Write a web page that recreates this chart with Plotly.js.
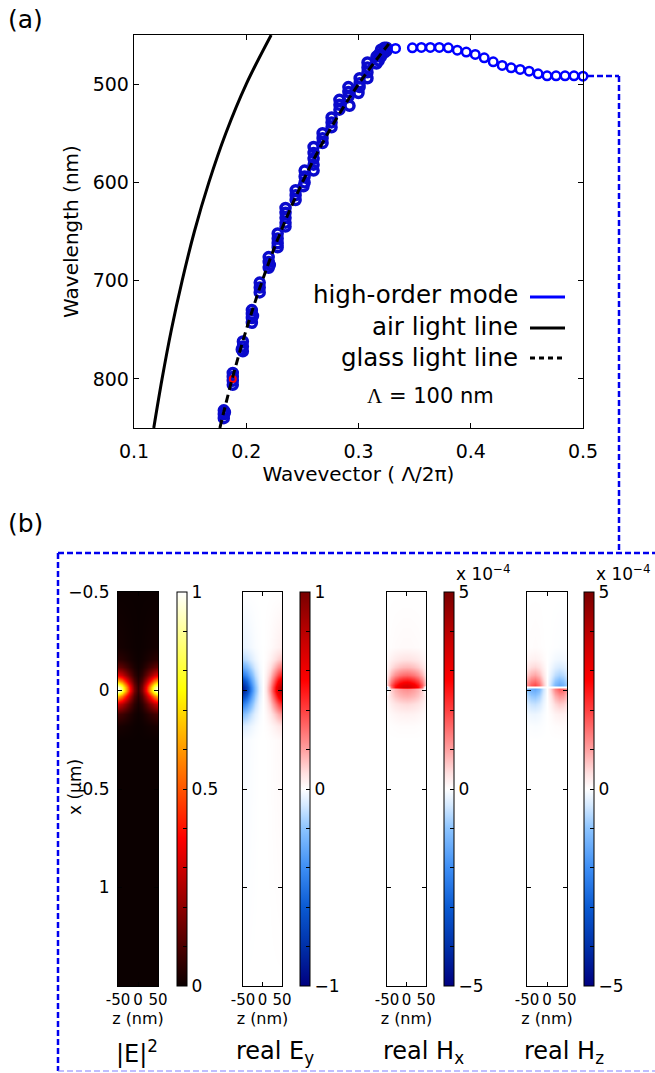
<!DOCTYPE html>
<html>
<head>
<meta charset="utf-8">
<script src="https://cdn.plot.ly/plotly-3.0.1.min.js"></script>
<style>html,body{margin:0;padding:0;background:#fff;}#chart{width:655px;height:1073px;}</style>
</head>
<body>
<div id="chart"></div>
<script>
// ---------- Panel (a) data ----------
const modeRiseK = [0.180,0.180,0.180,0.181, 0.188,0.188,0.188,0.188, 0.197,0.197,0.197,0.196, 0.205,0.205,0.205,0.205,0.206, 0.212,0.212,0.212, 0.220,0.220,0.220,0.221, 0.228,0.228,0.228,0.228, 0.235,0.235,0.235,0.235,0.235, 0.244,0.244,0.244, 0.252,0.252,0.252,0.251, 0.260,0.260,0.260,0.260,0.260, 0.268,0.268,0.268, 0.276,0.276,0.276, 0.283,0.283,0.283, 0.291,0.291,0.291,0.292, 0.300,0.301,0.301,0.301, 0.308,0.308,0.308,0.308, 0.316,0.316,0.318,0.318,0.320,0.320,0.323,0.323,0.325,0.325];
const modeRiseL = [832,836,840,834, 794,798,802,806, 762,767,772,770, 730,734,738,743,736, 702,707,712, 676,681,687,684, 652,657,662,666, 626,631,636,641,645, 608,613,618, 588,594,600,604, 564,570,576,582,588, 550,555,560, 534,539,544, 516,521,526, 503,508,513,522, 509,494,499,503, 478,483,488,494, 472,479,470,476,465,472,463,468,463,466];
const modeFlatK = [0.333,0.348,0.356,0.364,0.372,0.380,0.388,0.396,0.404,0.412,0.420,0.428,0.436,0.444,0.452,0.460,0.468,0.476,0.484,0.492,0.500];
const modeFlatL = [463.7,463.0,462.7,462.7,462.7,463.0,465.4,467.4,469.8,473.2,477.3,481.0,483.4,485.0,486.8,489.5,491.6,491.6,491.6,491.6,491.9];
const redK = [0.188];
const redL = [800];
const airK = [0.1176,0.125,0.1333,0.1429,0.1538,0.1667,0.1818,0.2,0.2222];
const airL = [850,800,750,700,650,600,550,500,450];
const glassK = [0.1765,0.1875,0.2,0.2143,0.2308,0.25,0.2727,0.3,0.327];
const glassL = [850,800,750,700,650,600,550,500,459];
const xTicksA = [0.1,0.2,0.3,0.4,0.5];
const yTicksA = [500,600,700,800];

// ---------- Panel (b) data ----------
const zNm = [-50,-40,-30,-20,-10,0,10,20,30,40,50];
const xUm = [-0.5,-0.22,-0.16,-0.12,-0.08,-0.05,-0.03,-0.02,-0.01,0,0.03,0.07,0.12,0.18,0.25,1.5];
const fieldE2 = [
 [0,0,0,0,0,0,0,0,0,0,0],
 [0.015,0.013,0.009,0.006,0.003,0.001,0.003,0.006,0.009,0.013,0.015],
 [0.05,0.043,0.031,0.019,0.009,0.003,0.009,0.019,0.031,0.043,0.05],
 [0.14,0.12,0.087,0.053,0.024,0.008,0.024,0.053,0.087,0.12,0.14],
 [0.34,0.29,0.21,0.13,0.058,0.02,0.058,0.13,0.21,0.29,0.34],
 [0.63,0.54,0.39,0.24,0.107,0.038,0.107,0.24,0.39,0.54,0.63],
 [0.87,0.74,0.54,0.33,0.148,0.052,0.148,0.33,0.54,0.74,0.87],
 [0.96,0.82,0.6,0.365,0.163,0.058,0.163,0.365,0.6,0.82,0.96],
 [1.0,0.85,0.62,0.38,0.17,0.06,0.17,0.38,0.62,0.85,1.0],
 [0.96,0.82,0.6,0.365,0.163,0.058,0.163,0.365,0.6,0.82,0.96],
 [0.65,0.55,0.4,0.247,0.11,0.039,0.11,0.247,0.4,0.55,0.65],
 [0.3,0.255,0.186,0.114,0.051,0.018,0.051,0.114,0.186,0.255,0.3],
 [0.09,0.077,0.056,0.034,0.015,0.005,0.015,0.034,0.056,0.077,0.09],
 [0.02,0.017,0.012,0.008,0.003,0.001,0.003,0.008,0.012,0.017,0.02],
 [0,0,0,0,0,0,0,0,0,0,0],
 [0,0,0,0,0,0,0,0,0,0,0]
];
const fieldEy = [
 [0,0,0,0,0,0,0,0,0,0,0],
 [-0.044,-0.035,-0.023,-0.011,-0.004,0,0.004,0.011,0.023,0.035,0.044],
 [-0.13,-0.105,-0.068,-0.033,-0.01,0,0.01,0.033,0.068,0.105,0.13],
 [-0.28,-0.224,-0.144,-0.07,-0.022,0,0.022,0.07,0.144,0.224,0.28],
 [-0.48,-0.385,-0.25,-0.12,-0.039,0,0.039,0.12,0.25,0.385,0.48],
 [-0.69,-0.55,-0.35,-0.17,-0.055,0,0.055,0.17,0.35,0.55,0.69],
 [-0.81,-0.64,-0.41,-0.2,-0.064,0,0.064,0.2,0.41,0.64,0.81],
 [-0.86,-0.69,-0.44,-0.215,-0.069,0,0.069,0.215,0.44,0.69,0.86],
 [-0.88,-0.7,-0.45,-0.22,-0.07,0,0.07,0.22,0.45,0.7,0.88],
 [-0.86,-0.69,-0.44,-0.215,-0.069,0,0.069,0.215,0.44,0.69,0.86],
 [-0.7,-0.56,-0.36,-0.176,-0.056,0,0.056,0.176,0.36,0.56,0.7],
 [-0.46,-0.36,-0.234,-0.114,-0.036,0,0.036,0.114,0.234,0.36,0.46],
 [-0.22,-0.175,-0.112,-0.055,-0.018,0,0.018,0.055,0.112,0.175,0.22],
 [-0.07,-0.056,-0.036,-0.018,-0.006,0,0.006,0.018,0.036,0.056,0.07],
 [-0.018,-0.014,-0.009,-0.004,-0.001,0,0.001,0.004,0.009,0.014,0.018],
 [0,0,0,0,0,0,0,0,0,0,0]
];
const fieldHx = [
 [0,0,0,0,0,0,0,0,0,0,0],
 [0.01,0.03,0.05,0.06,0.07,0.07,0.07,0.06,0.05,0.03,0.01],
 [0.06,0.18,0.26,0.31,0.34,0.35,0.34,0.31,0.26,0.18,0.06],
 [0.13,0.4,0.57,0.68,0.75,0.77,0.75,0.68,0.57,0.4,0.13],
 [0.27,0.81,1.17,1.4,1.53,1.58,1.53,1.4,1.17,0.81,0.27],
 [0.45,1.35,1.95,2.33,2.55,2.63,2.55,2.33,1.95,1.35,0.45],
 [0.5,1.7,2.47,2.95,3.23,3.33,3.23,2.95,2.47,1.7,0.5],
 [-0.6,1.5,2.6,3.1,3.4,3.5,3.4,3.1,2.6,1.5,-0.6],
 [-0.4,0.5,0.8,1.0,1.15,1.2,1.15,1.0,0.8,0.5,-0.4],
 [-0.1,0.5,0.8,0.95,1.05,1.1,1.05,0.95,0.8,0.5,-0.1],
 [0.15,0.45,0.65,0.78,0.85,0.88,0.85,0.78,0.65,0.45,0.15],
 [0.08,0.23,0.34,0.4,0.44,0.46,0.44,0.4,0.34,0.23,0.08],
 [0.03,0.09,0.13,0.16,0.17,0.18,0.17,0.16,0.13,0.09,0.03],
 [0.01,0.02,0.03,0.04,0.04,0.04,0.04,0.04,0.03,0.02,0.01],
 [0,0,0,0,0,0,0,0,0,0,0],
 [0,0,0,0,0,0,0,0,0,0,0]
];
const fieldHz = [
 [0,0,0,0,0,0,0,0,0,0,0],
 [0.02,0.03,0.04,0.03,0.01,0,-0.01,-0.02,-0.03,-0.03,-0.02],
 [0.12,0.17,0.19,0.15,0.07,0,-0.06,-0.12,-0.15,-0.13,-0.08],
 [0.3,0.43,0.48,0.38,0.18,0,-0.15,-0.3,-0.38,-0.33,-0.2],
 [0.6,0.85,0.95,0.75,0.35,0,-0.3,-0.6,-0.75,-0.65,-0.4],
 [0.96,1.36,1.52,1.2,0.56,0,-0.48,-0.96,-1.2,-1.04,-0.64],
 [1.2,1.7,1.9,1.5,0.7,0,-0.6,-1.2,-1.5,-1.3,-0.8],
 [0,0,0,0,0,0,0,0,0,0,0],
 [-1.0,-1.4,-1.5,-1.2,-0.5,0,0.6,1.3,1.7,1.6,1.1],
 [-0.9,-1.26,-1.35,-1.08,-0.45,0,0.54,1.17,1.53,1.44,0.99],
 [-0.65,-0.91,-0.98,-0.78,-0.33,0,0.39,0.85,1.1,1.04,0.72],
 [-0.35,-0.49,-0.53,-0.42,-0.18,0,0.21,0.46,0.6,0.56,0.39],
 [-0.12,-0.17,-0.18,-0.14,-0.06,0,0.07,0.16,0.2,0.19,0.13],
 [-0.03,-0.04,-0.05,-0.04,-0.02,0,0.02,0.04,0.05,0.05,0.03],
 [0,0,0,0,0,0,0,0,0,0,0],
 [0,0,0,0,0,0,0,0,0,0,0]
];
const zTickVals = [-50,0,50];
const zTickText = ['-50','0','50'];
const xTickVals = [-0.5,0,0.5,1];
const e2TickVals = [0,0.1,0.2,0.3,0.4,0.5,0.6,0.7,0.8,0.9,1];
const e2TickText = ['0','','','','','0.5','','','','','1'];
const eyTickVals = [-1,-0.8,-0.6,-0.4,-0.2,0,0.2,0.4,0.6,0.8,1];
const eyTickText = ['\u22121','','','','','0','','','','','1'];
const hTickVals = [-5,-4,-3,-2,-1,0,1,2,3,4,5];
const hTickText = ['\u22125','','','','','0','','','','','5'];

// ---------- helpers ----------
const W = 655, H = 1073;
const PX = v => v / W;
const PY = v => 1 - v / H;
const FONT = 'DejaVu Sans';

const hotScale = [[0,'#0b0000'],[0.375,'#ff0000'],[0.75,'#ffff00'],[1,'#ffffff']];
const bwrScale = [[0,'#000080'],[0.1,'#0030a8'],[0.2,'#0a5ad2'],[0.3,'#3d8ef5'],[0.4,'#8cc4ff'],[0.46,'#d6eaff'],[0.5,'#ffffff'],[0.54,'#ffe0e0'],[0.6,'#ffa0a0'],[0.7,'#ff4040'],[0.775,'#ff0000'],[0.875,'#c80000'],[1,'#780000']];

const traces = [];
traces.push({x: airK, y: airL, type:'scatter', mode:'lines', line:{color:'#000', width:3, shape:'spline'}, xaxis:'x', yaxis:'y', showlegend:false, hoverinfo:'skip'});
traces.push({x: modeRiseK, y: modeRiseL, type:'scatter', mode:'markers', marker:{symbol:'circle-open', size:9, color:'#0a0acc', line:{width:3.5, color:'#0a0acc'}}, xaxis:'x', yaxis:'y', showlegend:false, cliponaxis:false});
traces.push({x: redK, y: redL, type:'scatter', mode:'markers', marker:{symbol:'circle-open', size:6, color:'#ff0000', line:{width:2, color:'#ff0000'}}, xaxis:'x', yaxis:'y', showlegend:false});
traces.push({x: modeFlatK, y: modeFlatL, type:'scatter', mode:'markers', marker:{symbol:'circle-open', size:8.5, color:'#0000ff', line:{width:2.5, color:'#0000ff'}}, xaxis:'x', yaxis:'y', showlegend:false, cliponaxis:false});
traces.push({x: glassK, y: glassL, type:'scatter', mode:'lines', line:{color:'#000', width:3, dash:'8px,5px', shape:'spline'}, xaxis:'x', yaxis:'y', showlegend:false, hoverinfo:'skip'});

function cbar(xLeft, vals, text){
  return {x: PX(xLeft), xanchor:'left', xpad:0, y: PY(986), yanchor:'bottom', ypad:0,
    len: 394, lenmode:'pixels', thickness:10, thicknessmode:'pixels',
    outlinewidth:1, outlinecolor:'#000', ticks:'inside', ticklen:4, tickcolor:'#000', tickwidth:1,
    tickmode:'array', tickvals: vals, ticktext: text, tickfont:{family:FONT, size:17, color:'#000'}};
}
traces.push({type:'heatmap', x: zNm, y: xUm, z: fieldE2, xaxis:'x2', yaxis:'y2', zsmooth:'best', colorscale: hotScale, zmin:0, zmax:1, colorbar: cbar(177, e2TickVals, e2TickText)});
traces.push({type:'heatmap', x: zNm, y: xUm, z: fieldEy, xaxis:'x3', yaxis:'y3', zsmooth:'best', colorscale: bwrScale, zmin:-1, zmax:1, colorbar: cbar(300, eyTickVals, eyTickText)});
traces.push({type:'heatmap', x: zNm, y: xUm, z: fieldHx, xaxis:'x4', yaxis:'y4', zsmooth:'best', colorscale: bwrScale, zmin:-5, zmax:5, colorbar: cbar(444, hTickVals, hTickText)});
traces.push({type:'heatmap', x: zNm, y: xUm, z: fieldHz, xaxis:'x5', yaxis:'y5', zsmooth:'best', colorscale: bwrScale, zmin:-5, zmax:5, colorbar: cbar(584, hTickVals, hTickText)});

const layout = {
  width: W, height: H, margin:{l:0,r:0,t:0,b:0}, paper_bgcolor:'#fff', plot_bgcolor:'rgba(0,0,0,0)',
  font:{family:FONT, color:'#000'}, showlegend:false,
  xaxis:{domain:[PX(134),PX(583)], range:[0.1,0.5], tickmode:'array', tickvals:xTicksA, ticktext:['0.1','0.2','0.3','0.4','0.5'],
    ticks:'inside', ticklen:5, tickcolor:'#000', showline:true, linecolor:'#000', linewidth:1.3, mirror:'ticks', showgrid:false, zeroline:false,
    tickfont:{size:19}, ticklabelstandoff:6, title:{text:'Wavevector ( \u039b/2\u03c0)', font:{size:20}, standoff:2}, anchor:'y'},
  yaxis:{domain:[PY(428),PY(35)], range:[850,450], tickmode:'array', tickvals:yTicksA,
    ticks:'inside', ticklen:5, tickcolor:'#000', showline:true, linecolor:'#000', linewidth:1.3, mirror:'ticks', showgrid:false, zeroline:false,
    tickfont:{size:19}, title:{text:'Wavelength (nm)', font:{size:20}, standoff:8}, anchor:'x'},
  annotations:[], shapes:[]
};

const panels = [[118,158],[243,282],[387,426],[527,567]];
panels.forEach((p,i)=>{
  const n = i+2;
  layout['xaxis'+n] = {domain:[PX(p[0]),PX(p[1])], range:[-50,50], anchor:'y'+n, tickmode:'array', tickvals:zTickVals, ticktext:zTickText,
    ticks:'inside', ticklen:4, tickcolor:'#000', showline:true, linecolor:'#000', linewidth:1, mirror:'ticks', showgrid:false, zeroline:false,
    tickfont:{size:15}, title:{text:'z (nm)', font:{size:16}, standoff:2}};
  layout['yaxis'+n] = {domain:[PY(986),PY(592)], range:[1.5,-0.5], anchor:'x'+n, tickmode:'array', tickvals:xTickVals,
    ticks:'inside', ticklen:4, tickcolor:'#000', showline:true, linecolor:'#000', linewidth:1, mirror:'ticks', showgrid:false, zeroline:false,
    showticklabels: i===0, tickfont:{size:17}, ticklabelstandoff:4};
});

const ann = (x,y,text,size,align,extra) => Object.assign({xref:'paper', yref:'paper', x:PX(x), y:PY(y), text:text, showarrow:false,
  xanchor:align||'center', yanchor:'middle', font:{family:FONT, size:size, color:'#000'}}, extra||{});
layout.annotations.push(ann(6,20,'(a)',25,'left'));
layout.annotations.push(ann(6,523,'(b)',25,'left'));
layout.annotations.push(ann(520,295,'high-order mode',24.5,'right'));
layout.annotations.push(ann(520,326,'air light line',24.5,'right'));
layout.annotations.push(ann(520,357,'glass light line',24.5,'right'));
layout.annotations.push(ann(430,396,'<span style="font-family:Liberation Serif">\u039b</span> = 100 nm',21,'center'));
layout.annotations.push(ann(75,787,'x (\u03bcm)',17,'center',{textangle:-90}));
layout.annotations.push(ann(137,1052,'|E|<sup>2</sup>',24,'center'));
layout.annotations.push(ann(275,1052,'real E<sub>y</sub>',24,'center'));
layout.annotations.push(ann(423,1052,'real H<sub>x</sub>',24,'center'));
layout.annotations.push(ann(564,1052,'real H<sub>z</sub>',24,'center'));
layout.annotations.push(ann(454,573,'x 10<sup>\u22124</sup>',17,'left'));
layout.annotations.push(ann(594,573,'x 10<sup>\u22124</sup>',17,'left'));

const seg = (x0,y0,x1,y1,color,width,dash) => ({type:'line', xref:'paper', yref:'paper', x0:PX(x0), y0:PY(y0), x1:PX(x1), y1:PY(y1), line:{color:color, width:width, dash:dash||'solid'}});
layout.shapes.push(seg(530,297,565,297,'#0000ff',3));
layout.shapes.push(seg(530,328,565,328,'#000',3));
layout.shapes.push(seg(530,358,565,358,'#000',3,'5px,4px'));
layout.shapes.push(seg(588,76,619,76,'#0000ee',2.5,'6px,3px'));
layout.shapes.push(seg(619,76,619,553,'#0000ee',2.5,'6px,3px'));
layout.shapes.push(seg(58,553,655,553,'#0000ee',2.5,'6px,3px'));
layout.shapes.push(seg(58,553,58,1071,'#0000ee',2.5,'6px,3px'));
layout.shapes.push(seg(58,1071,655,1071,'#8080ff',1.2,'6px,3px'));

Plotly.newPlot('chart', traces, layout, {staticPlot:true, displayModeBar:false});
</script>
</body>
</html>
